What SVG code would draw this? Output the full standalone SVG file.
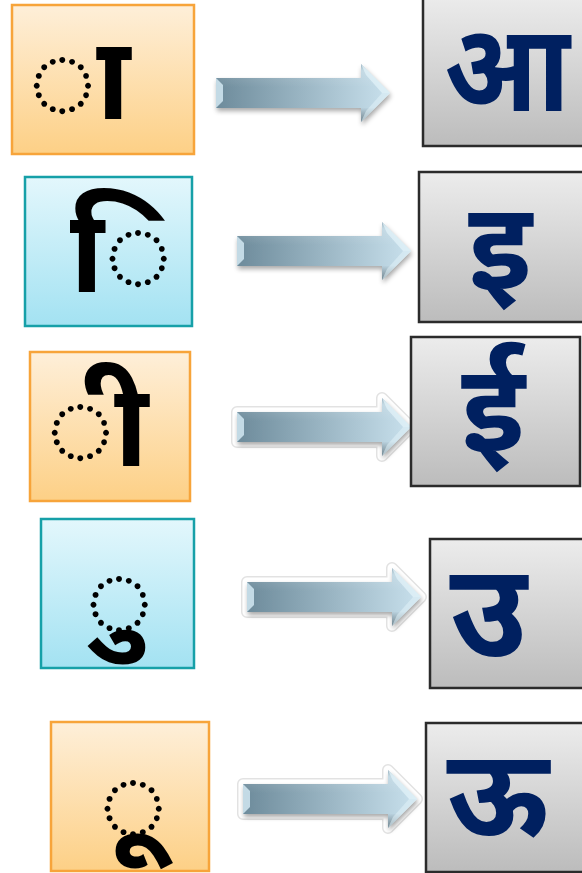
<svg xmlns="http://www.w3.org/2000/svg" width="582" height="873" viewBox="0 0 582 873">
<style>
.orange{fill:url(#gOrange);stroke:#f7a43a;stroke-width:2.5}
.teal{fill:url(#gTeal);stroke:#16a0a8;stroke-width:2.5}
.grey{fill:url(#gGrey);stroke:#2b2b2b;stroke-width:2.5}
.matra{font-family:"Noto Sans","DejaVu Sans",sans-serif;font-size:115px;font-weight:bold;fill:#000}
.vowel{font-family:"Noto Sans","DejaVu Sans",sans-serif;font-size:122px;font-weight:bold;fill:#002060}
.halo{fill:#ffffff;stroke:#e2e2e2;stroke-width:12;stroke-linejoin:round}
.halo2{fill:#ffffff;stroke:#ffffff;stroke-width:9;stroke-linejoin:round}
</style>
<defs>
<linearGradient id="gOrange" x1="0" y1="0" x2="0" y2="1"><stop offset="0" stop-color="#feefd9"/><stop offset="1" stop-color="#fdd086"/></linearGradient>
<linearGradient id="gTeal" x1="0" y1="0" x2="0" y2="1"><stop offset="0" stop-color="#e3f7fc"/><stop offset="1" stop-color="#a3e2f2"/></linearGradient>
<linearGradient id="gGrey" x1="0" y1="0" x2="0" y2="1"><stop offset="0" stop-color="#ececec"/><stop offset="1" stop-color="#bcbcbc"/></linearGradient>
<linearGradient id="gArrow" x1="0" y1="0" x2="1" y2="0"><stop offset="0" stop-color="#6d8b9b"/><stop offset="1" stop-color="#c9e1ed"/></linearGradient>
<linearGradient id="gArrowV" x1="0" y1="0" x2="0" y2="1"><stop offset="0" stop-color="#2a4250" stop-opacity="0.3"/><stop offset="0.12" stop-color="#ffffff" stop-opacity="0.15"/><stop offset="0.4" stop-color="#ffffff" stop-opacity="0"/><stop offset="0.75" stop-color="#000000" stop-opacity="0"/><stop offset="1" stop-color="#1c2f3a" stop-opacity="0.45"/></linearGradient>
<filter id="shadow" x="-10%" y="-30%" width="125%" height="170%"><feGaussianBlur in="SourceAlpha" stdDeviation="2.5"/><feOffset dx="1" dy="3"/><feComponentTransfer><feFuncA type="linear" slope="0.35"/></feComponentTransfer><feMerge><feMergeNode/><feMergeNode in="SourceGraphic"/></feMerge></filter>
<path id="arrowShape" d="M0,-15 H145 V-29 L174,0 L145,29 V15 H0 Z"/>
<g id="arrow">
<use href="#arrowShape" fill="url(#gArrow)"/>
<use href="#arrowShape" fill="url(#gArrowV)"/>
<path d="M0,-15 L7,-8 L7,8 L0,15 Z" fill="#d8eef7" opacity="0.8"/>
<path d="M145,-29 L150,-18 L166,0 L174,0 Z" fill="#e4f3fa" opacity="0.7"/>
<path d="M145,29 L150,18 L166,0 L174,0 Z" fill="#e4f3fa" opacity="0.5"/>
</g>
<g id="haloArrow">
<use href="#arrowShape" class="halo"/>
<use href="#arrowShape" class="halo2"/>
</g>
</defs>
<rect width="582" height="873" fill="#ffffff"/>
<g id="connectors">
<use href="#haloArrow" transform="translate(237,427)"/>
<use href="#haloArrow" transform="translate(247,597)"/>
<use href="#haloArrow" transform="translate(243,799)"/>
<g filter="url(#shadow)">
<use href="#arrow" transform="translate(216,93)"/>
<use href="#arrow" transform="translate(237,251)"/>
<use href="#arrow" transform="translate(237,427)"/>
<use href="#arrow" transform="translate(247,597)"/>
<use href="#arrow" transform="translate(243,799)"/>
</g>
</g>
<g id="sign-aa"><rect class="orange" x="12" y="5" width="182" height="149"/><text class="matra" x="79" y="119" text-anchor="middle">◌ा</text></g>
<g id="sign-i"><rect class="teal" x="25" y="177" width="167" height="149"/><text class="matra" x="121" y="292" text-anchor="middle">◌ि</text></g>
<g id="sign-ii"><rect class="orange" x="30" y="352" width="160" height="149"/><text class="matra" x="97" y="466" text-anchor="middle">◌ी</text></g>
<g id="sign-u"><rect class="teal" x="41" y="519" width="153" height="149"/><text class="matra" x="119" y="638" text-anchor="middle">◌ु</text></g>
<g id="sign-uu"><rect class="orange" x="51" y="722" width="158" height="149"/><text class="matra" x="133" y="842" text-anchor="middle">◌ू</text></g>
<g id="vowel-aa"><rect class="grey" x="423" y="-5" width="170" height="151"/><text class="vowel" transform="translate(507,111) scale(0.9,1)" text-anchor="middle">आ</text></g>
<g id="vowel-i"><rect class="grey" x="419" y="172" width="170" height="150"/><text class="vowel" x="500" y="289" text-anchor="middle">इ</text></g>
<g id="vowel-ii"><rect class="grey" x="411" y="337" width="169" height="149"/><text class="vowel" x="493" y="451" text-anchor="middle">ई</text></g>
<g id="vowel-u"><rect class="grey" x="430" y="539" width="165" height="149"/><text class="vowel" x="488" y="657" text-anchor="middle" style="font-size:132px">उ</text></g>
<g id="vowel-uu"><rect class="grey" x="426" y="723" width="165" height="149"/><text class="vowel" x="497" y="836" text-anchor="middle">ऊ</text></g>
</svg>
